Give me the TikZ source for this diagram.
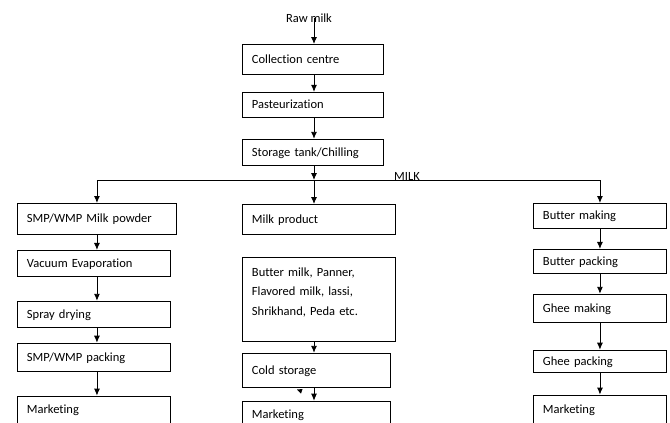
\documentclass[tikz,border=0pt]{standalone}
\usepackage{fontspec}
\setmainfont{Carlito}[Ligatures=NoCommon]
\usetikzlibrary{arrows.meta,positioning}

\begin{document}
\begin{tikzpicture}[
  x=1pt, y=-1pt,
  font=\fontsize{12.5}{19.5}\selectfont,
  box/.style={draw, line width=.9pt, anchor=north west, align=left,
              inner xsep=9.5pt, inner ysep=0pt, text width=#1,
              execute at begin node=\strut},
  openbox/.style={box=#1, minimum height=0pt, text height=17pt,
                  text depth=30pt},
  arrow/.style={-{Latex[length=7pt,width=6pt]}, line width=.9pt},
  line/.style={line width=.9pt},
]
\useasboundingbox (0,0) rectangle (670,423);
\clip (0,0) rectangle (670,423);

% main line
\node (rawmilk) at (309,18) {Raw milk};
\node[box=122pt, minimum height=30pt] (col) at (242,44) {Collection centre};
\node[box=122pt, minimum height=25pt, below right=17pt and 0pt of col.south west]
 (past) {Pasteurization};
\node[box=122pt, minimum height=26pt, below right=21pt and 0pt of past.south west]
 (store) {Storage tank/Chilling};
\coordinate (split) at (314,180);
\node (milk) at (407,176) {MILK};

% milk powder
\node[box=140pt, minimum height=31pt] (powder) at (17,203) {SMP/WMP Milk powder};
\node[box=134pt, minimum height=26pt, below right=15pt and 0pt of powder.south west]
 (evap) {Vacuum Evaporation};
\node[box=134pt, minimum height=26pt, below right=24pt and 0pt of evap.south west]
 (spray) {Spray drying};
\node[box=134pt, minimum height=28pt, below right=15pt and 0pt of spray.south west]
 (smppack) {SMP/WMP packing};
\node[openbox=134pt, below right=24pt and 0pt of smppack.south west]
 (mktA) {Marketing};

% milk products
\node[box=134pt, minimum height=30pt] (prod) at (242,204) {Milk product};
\node[box=134pt, minimum height=0pt, text height=19pt, text depth=65pt,
      below right=22pt and 0pt of prod.south west] (items)
 {Butter milk, Panner,\\Flavored milk, lassi,\\Shrikhand, Peda etc.};
\node[box=129pt, minimum height=34pt, below right=11pt and 0pt of items.south west]
 (cold) {Cold storage};
\node[openbox=129pt, below right=13pt and 0pt of cold.south west]
 (mktB) {Marketing};

% butter and ghee
\node[box=114pt, minimum height=25pt] (bmake) at (533,203) {Butter making};
\node[box=114pt, minimum height=24pt, below right=20pt and 0pt of bmake.south west]
 (bpack) {Butter packing};
\node[box=114pt, minimum height=28pt, below right=20pt and 0pt of bpack.south west]
 (gmake) {Ghee making};
\node[box=114pt, minimum height=22pt, below right=27pt and 0pt of gmake.south west]
 (gpack) {Ghee packing};
\node[box=114pt, minimum height=29pt, below right=22pt and 0pt of gpack.south west]
 (mktC) {Marketing};

% connectors
\draw[arrow] (split |- rawmilk.center) -- (split |- col.north);
\foreach \a/\b in {col/past, past/store}
  \draw[arrow] (split |- \a.south) -- (split |- \b.north);
\draw[arrow] (split |- store.south) -- (split);
\draw[line] (split -| powder.north) -- (split -| bmake.north);
\draw[arrow] (split) -- (split |- prod.north);
\draw[arrow] (split -| powder.north) -- (powder.north);
\draw[arrow] (split -| bmake.north) -- (bmake.north);
\foreach \a/\b in {powder/evap, evap/spray, spray/smppack, smppack/mktA}
  \draw[arrow] (powder.south |- \a.south) -- (powder.south |- \b.north);
\foreach \a/\b in {items/cold, cold/mktB}
  \draw[arrow] (split |- \a.south) -- (split |- \b.north);
\foreach \a/\b in {bmake/bpack, bpack/gmake, gmake/gpack, gpack/mktC}
  \draw[arrow] (\a.south) -- (\b.north);
\fill (297,389.5) -- (302.5,389) -- (301,393.5) -- cycle;
\end{tikzpicture}
\end{document}
